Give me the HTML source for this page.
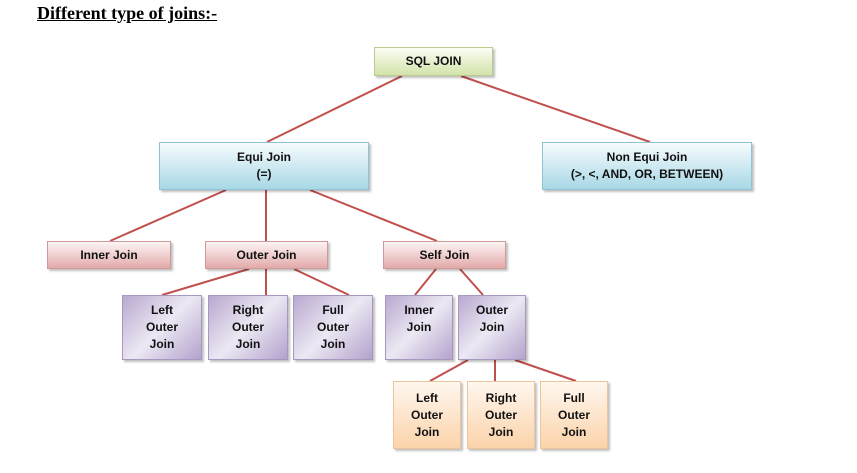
<!DOCTYPE html>
<html><head><style>
body{margin:0;width:857px;height:473px;background:#fff;position:relative;overflow:hidden;font-family:"Liberation Sans",sans-serif}
.t{position:absolute;left:37px;top:3px;font:bold 18px "Liberation Serif",serif;text-decoration:underline;color:#000}
.b{position:absolute;box-sizing:border-box;display:flex;align-items:center;justify-content:center;text-align:center;font-weight:bold;font-size:12px;line-height:17px;color:#111;box-shadow:2px 2px 2px rgba(0,0,0,.25)}
.g{background:linear-gradient(#fbfdf3,#d3e3aa);border:1px solid #b9cc8e}
.c{background:linear-gradient(#f6fbfd,#a8d8e6);border:1px solid #8ec2d4}
.r{background:linear-gradient(#fdf4f4,#e3aaaa);border:1px solid #d09a9a}
.p{background:linear-gradient(135deg,#b8a8cf,#ece8f3 50%,#b3a2cc);border:1px solid #a898c0}
.o{background:linear-gradient(#fff7ef,#fbd3aa);border:1px solid #eec49a}
</style></head><body>
<div class="t">Different type of joins:-</div>
<svg width="857" height="473" style="position:absolute;left:0;top:0" stroke="#c0504d" stroke-width="2">
<line x1="402" y1="76" x2="267" y2="142"/><line x1="461" y1="76" x2="650" y2="142"/>
<line x1="226" y1="190" x2="110" y2="241"/><line x1="266" y1="190" x2="266" y2="241"/><line x1="310" y1="190" x2="437" y2="241"/>
<line x1="249" y1="269" x2="162" y2="295"/><line x1="266" y1="269" x2="266" y2="295"/><line x1="294" y1="269" x2="349" y2="295"/>
<line x1="436" y1="269" x2="415" y2="295"/><line x1="460" y1="269" x2="483" y2="295"/>
<line x1="468" y1="360" x2="430" y2="381"/><line x1="495" y1="360" x2="495" y2="381"/><line x1="515" y1="360" x2="576" y2="381"/>
</svg>
<div class="b g" style="left:374px;top:47px;width:119px;height:29px">SQL JOIN</div>
<div class="b c" style="left:159px;top:142px;width:210px;height:48px">Equi Join<br>(=)</div>
<div class="b c" style="left:542px;top:142px;width:210px;height:48px">Non Equi Join<br>(&gt;, &lt;, AND, OR, BETWEEN)</div>
<div class="b r" style="left:47px;top:241px;width:124px;height:28px">Inner Join</div>
<div class="b r" style="left:205px;top:241px;width:123px;height:28px">Outer Join</div>
<div class="b r" style="left:383px;top:241px;width:123px;height:28px">Self Join</div>
<div class="b p" style="left:122px;top:295px;width:80px;height:65px">Left<br>Outer<br>Join</div>
<div class="b p" style="left:208px;top:295px;width:80px;height:65px">Right<br>Outer<br>Join</div>
<div class="b p" style="left:293px;top:295px;width:80px;height:65px">Full<br>Outer<br>Join</div>
<div class="b p" style="left:385px;top:295px;width:68px;height:65px;align-items:flex-start;padding-top:6px">Inner<br>Join</div>
<div class="b p" style="left:458px;top:295px;width:68px;height:65px;align-items:flex-start;padding-top:6px">Outer<br>Join</div>
<div class="b o" style="left:393px;top:381px;width:68px;height:68px">Left<br>Outer<br>Join</div>
<div class="b o" style="left:467px;top:381px;width:68px;height:68px">Right<br>Outer<br>Join</div>
<div class="b o" style="left:540px;top:381px;width:68px;height:68px">Full<br>Outer<br>Join</div>
</body></html>
